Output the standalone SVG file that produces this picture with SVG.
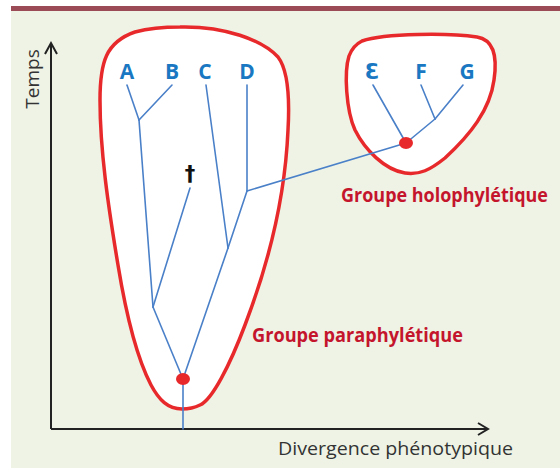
<svg xmlns="http://www.w3.org/2000/svg" width="560" height="468" viewBox="0 0 560 468">
<style>
.branch{fill:none;stroke:#4a80c8;stroke-width:1.6;stroke-linecap:round}
.group{fill:#ffffff;stroke:#e8292b;stroke-width:3.5}
.axis{fill:none;stroke:#222;stroke-width:2}
.taxon{font-family:"Open Sans","DejaVu Sans",sans-serif;font-weight:700;font-size:21px;fill:#1a78c2;text-anchor:middle}
.glabel{font-family:"Open Sans","Liberation Sans",sans-serif;font-weight:700;font-size:19px;fill:#c4152d}
.alabel{font-family:"Open Sans","Liberation Sans",sans-serif;font-size:19px;fill:#333}
.dot{fill:#e8292b}
</style>
<rect x="0" y="0" width="560" height="468" fill="#ffffff"/>
<rect x="11" y="11" width="549" height="457" fill="#eef3e6"/>
<rect x="11" y="6" width="549" height="5" fill="#9a4b55"/>

<g id="paraphyletic-group">
<path class="group" d="M182,409 C168,409 159,400 151,385 C138,360 127,320 118,265 C108,205 100,150 100,100 C100,62 106,42 135,32 C150,28 165,27 180,27 C225,26 262,40 278,57 C288,70 290,95 288,130 C285,200 268,265 245,325 C230,365 212,400 200,405 C194,408 188,409 182,409 Z"/>
</g>
<g id="holophyletic-group">
<path class="group" d="M362,41 C385,33 450,33 477,37 C495,40 497,60 494,80 C490,110 470,135 445,158 C430,170 420,175 405,173 C385,170 365,150 355,130 C346,110 344,72 349,56 C352,48 356,44 362,41 Z"/>
</g>

<g id="axes">
<path class="axis" d="M51,429 V44 M45,54 L51,43 L57,54"/>
<path class="axis" d="M51,429 H488 M478,423 L488,429 L478,435"/>
<text class="alabel" transform="translate(39,79) rotate(-90)" text-anchor="middle">Temps</text>
<text class="alabel" x="278" y="455" textLength="235" lengthAdjust="spacingAndGlyphs">Divergence phénotypique</text>
</g>

<g id="connectors">
<path class="branch" d="M183,429 V379"/>
<path class="branch" d="M183,379 L153,307"/>
<path class="branch" d="M183,379 L228,248"/>
<path class="branch" d="M153,307 L139,120"/>
<path class="branch" d="M153,307 L190,188"/>
<path class="branch" d="M139,120 L127,85"/>
<path class="branch" d="M139,120 L172,85"/>
<path class="branch" d="M228,248 L206,85"/>
<path class="branch" d="M228,248 L247,191"/>
<path class="branch" d="M247,191 V85"/>
<path class="branch" d="M247,191 L406,143"/>
<path class="branch" d="M406,143 L373,85"/>
<path class="branch" d="M406,143 L435,119"/>
<path class="branch" d="M435,119 L421,85"/>
<path class="branch" d="M435,119 L463,85"/>
</g>

<g id="root-node"><ellipse class="dot" cx="183" cy="379" rx="7" ry="6"/></g>
<g id="efg-node"><ellipse class="dot" cx="406" cy="143" rx="7" ry="6"/></g>

<g id="taxon-A"><text class="taxon" x="127" y="79">A</text></g>
<g id="taxon-B"><text class="taxon" x="172" y="79">B</text></g>
<g id="taxon-C"><text class="taxon" x="205" y="79">C</text></g>
<g id="taxon-D"><text class="taxon" x="247" y="79">D</text></g>
<g id="taxon-E"><text class="taxon" x="372" y="79">Ɛ</text></g>
<g id="taxon-F"><text class="taxon" x="421" y="79">F</text></g>
<g id="taxon-G"><text class="taxon" x="467" y="79">G</text></g>
<g id="extinct"><text x="190" y="181" font-family="'DejaVu Sans',sans-serif" font-size="21" font-weight="700" fill="#111" text-anchor="middle">†</text></g>

<g id="label-paraphyletic"><text class="glabel" x="252" y="342" textLength="211" lengthAdjust="spacingAndGlyphs">Groupe paraphylétique</text></g>
<g id="label-holophyletic"><text class="glabel" x="341" y="202" textLength="207" lengthAdjust="spacingAndGlyphs">Groupe holophylétique</text></g>
</svg>
